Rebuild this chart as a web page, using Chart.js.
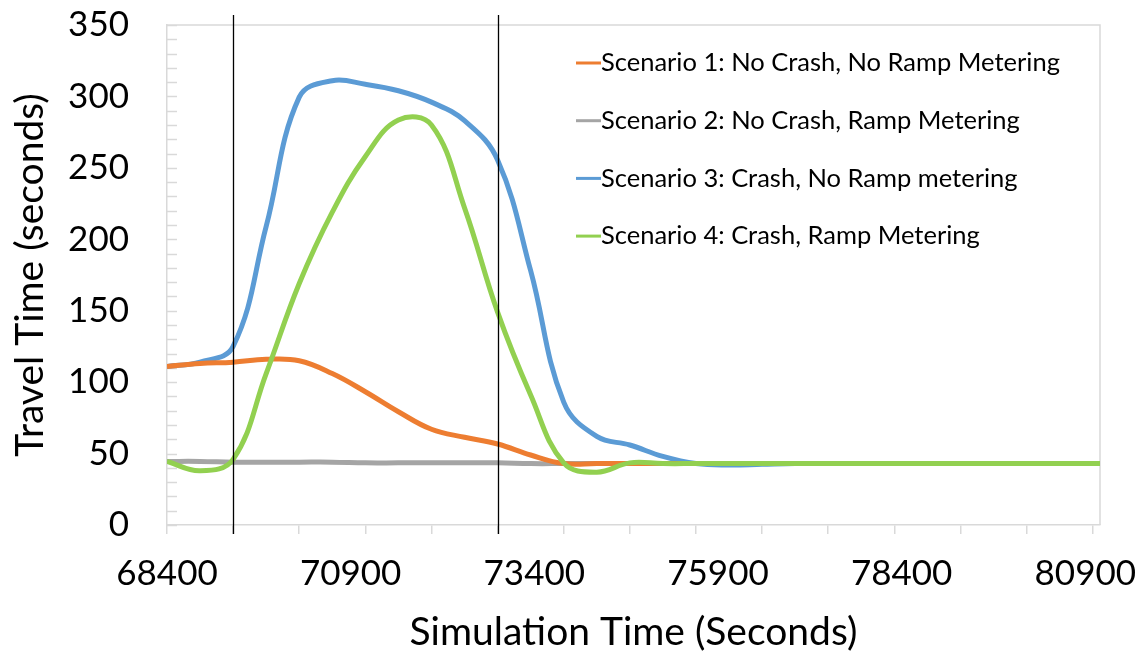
<!DOCTYPE html>
<html>
<head>
<meta charset="utf-8">
<script src="https://cdn.jsdelivr.net/npm/chart.js@4.4.1/dist/chart.umd.min.js"></script>
<style>
  html, body { margin: 0; padding: 0; background: #fff; }
  #wrap { width: 1145px; height: 659px; }
</style>
</head>
<body>
<div id="wrap"><canvas id="tt" width="1145" height="659"></canvas></div>
<script>
// simulation time (s), read every 450 s plus the end of the run
const times = [68400, 68850, 69300, 69750, 70200, 70650, 71100, 71550, 72000, 72450,
               72900, 73350, 73800, 74250, 74700, 75150, 75600, 76050, 76500, 76950,
               77400, 77850, 78300, 78750, 79200, 79650, 80100, 80550, 81000, 81100];

// travel time (s) for each scenario
const scenario1 = [111, 113, 114, 116, 115, 106, 93.3, 79.3, 67, 61.4,
                   56.7, 49, 43, 43, 43, 43, 43, 43, 43, 43,
                   43, 43, 43, 43, 43, 43, 43, 43, 43, 43];
const scenario2 = [44.5, 44.5, 44, 44, 44, 44, 43.5, 43.5, 43.5, 43.5,
                   43.5, 43, 43, 43, 43, 43, 43, 43, 43, 43,
                   43, 43, 43, 43, 43, 43, 43, 43, 43, 43];
const scenario3 = [111, 114, 125, 209, 299.5, 311, 308.5, 304, 296, 283,
                   255.5, 178, 86, 62, 56, 48, 43, 42, 42.5, 43,
                   43, 43, 43, 43, 43, 43, 43, 43, 43, 43];
const scenario4 = [44.5, 38, 46, 106, 169, 219, 258, 283.5, 280, 222,
                   149, 91, 43.5, 37, 43.5, 43, 43, 43, 43, 43,
                   43, 43, 43, 43, 43, 43, 43, 43, 43, 43];

const seriesNames = [
    'Scenario 1: No Crash, No Ramp Metering',
    'Scenario 2: No Crash, Ramp Metering',
    'Scenario 3: Crash, No Ramp metering',
    'Scenario 4: Crash, Ramp Metering'
];
const seriesColors = ['#ED7D31', '#A5A5A5', '#5B9BD5', '#92D050'];

const labelTicks = [68400, 70900, 73400, 75900, 78400, 80900];
const markTicks = [68400, 69300, 70200, 71100, 72000, 72900, 73800, 74700, 75600, 76500, 77400, 78300, 79200, 80100, 81000];
const crashMarkers = [69300, 72900];

const FONT = 'Lato, "Open Sans", sans-serif';
const GREY = '#D9D9D9';

const pts = vals => times.map((t, i) => ({ x: t, y: vals[i] }));

const frame = {
    id: 'frame',
    beforeDatasetsDraw(chart) {
        const { ctx, chartArea: a, scales: { y } } = chart;
        ctx.save();
        ctx.strokeStyle = GREY;
        ctx.lineWidth = 1.5;
        ctx.beginPath();
        ctx.moveTo(a.left, a.top);
        ctx.lineTo(a.right, a.top);
        ctx.lineTo(a.right, a.bottom);
        y.ticks.forEach(t => {
            const py = Math.round(y.getPixelForValue(t.value)) + 0.5;
            ctx.moveTo(a.left, py);
            ctx.lineTo(a.left + 10, py);
        });
        ctx.stroke();
        ctx.restore();
    },
    afterDatasetsDraw(chart) {
        const { ctx, scales: { x } } = chart;
        ctx.save();
        ctx.strokeStyle = '#000';
        ctx.lineWidth = 1.3;
        crashMarkers.forEach(v => {
            const px = Math.round(x.getPixelForValue(v)) + 0.5;
            ctx.beginPath();
            ctx.moveTo(px, 15);
            ctx.lineTo(px, 534);
            ctx.stroke();
        });
        ctx.restore();
    },
    afterDraw(chart) {
        const { ctx } = chart;
        ctx.save();
        ctx.font = '25.5px ' + FONT;
        ctx.textBaseline = 'middle';
        ctx.fillStyle = '#000';
        seriesNames.forEach((name, i) => {
            const ry = 63 + i * 57.7;
            ctx.strokeStyle = seriesColors[i];
            ctx.lineWidth = 3;
            ctx.beginPath();
            ctx.moveTo(576, ry);
            ctx.lineTo(601, ry);
            ctx.stroke();
            ctx.fillText(name, 601, ry);
        });
        ctx.restore();
    }
};

const series = [scenario1, scenario2, scenario3, scenario4];
const drawOrder = [1, 2, 3, 0];

new Chart(document.getElementById('tt'), {
    type: 'line',
    data: {
        datasets: series.map((vals, i) => ({
            label: seriesNames[i],
            data: pts(vals),
            borderColor: seriesColors[i],
            backgroundColor: seriesColors[i],
            borderWidth: 5,
            pointRadius: 0,
            tension: 0.4,
            fill: false,
            order: drawOrder[i]
        }))
    },
    options: {
        responsive: false,
        devicePixelRatio: 1,
        animation: false,
        layout: { padding: { top: 25, right: 45, left: 0, bottom: 0 } },
        plugins: { legend: { display: false }, tooltip: { enabled: false } },
        scales: {
            x: {
                type: 'linear',
                min: 68400,
                max: 81100,
                afterFit: s => { s.height = 134; s.paddingLeft = 0; s.paddingRight = 0; },
                afterBuildTicks: s => {
                    const vals = Array.from(new Set(markTicks.concat(labelTicks))).sort((a, b) => a - b);
                    s.ticks = vals.map(v => ({ value: v }));
                },
                border: { color: GREY, width: 1.5 },
                grid: {
                    drawOnChartArea: false,
                    drawTicks: true,
                    tickLength: 9,
                    lineWidth: 1.5,
                    color: c => (c.tick && markTicks.includes(c.tick.value)) ? GREY : 'rgba(0,0,0,0)'
                },
                ticks: {
                    autoSkip: false,
                    maxRotation: 0,
                    padding: 19,
                    color: '#000',
                    font: { family: FONT, size: 35 },
                    callback: v => labelTicks.includes(v) ? String(v) : ''
                },
                title: {
                    display: true,
                    text: 'Simulation Time (Seconds)',
                    color: '#000',
                    font: { family: FONT, size: 39 },
                    padding: { top: 0, bottom: 3 }
                }
            },
            y: {
                min: 0,
                max: 350,
                afterFit: s => { s.width = 167; s.paddingTop = 0; s.paddingBottom = 0; },
                border: { color: GREY, width: 1.5 },
                grid: { drawOnChartArea: false, drawTicks: false },
                ticks: {
                    stepSize: 10,
                    autoSkip: false,
                    padding: 38,
                    color: '#000',
                    font: { family: FONT, size: 35 },
                    callback: v => v % 50 === 0 ? String(v) : ''
                },
                title: {
                    display: true,
                    text: 'Travel Time (seconds)',
                    color: '#000',
                    font: { family: FONT, size: 39 },
                    padding: { top: 7, bottom: 0 }
                }
            }
        }
    },
    plugins: [frame]
});
</script>
</body>
</html>
